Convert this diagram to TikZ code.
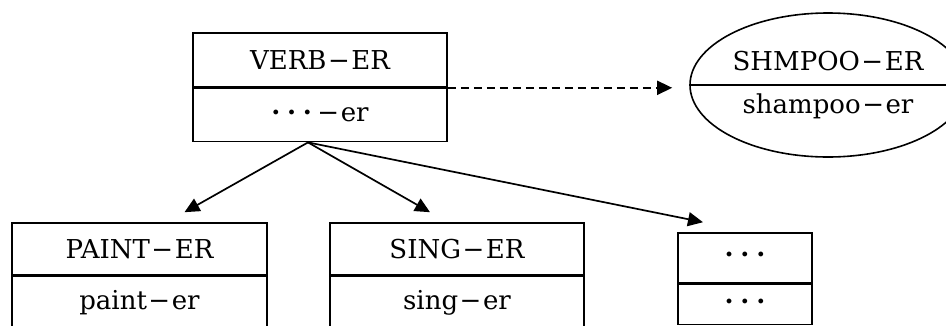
\documentclass[tikz,border=0pt]{standalone}
\usepackage{fontspec}
\setmainfont{DejaVu Serif}
\usetikzlibrary{arrows.meta,shapes.geometric}
% minus sign between word parts
\newcommand{\mn}{\kern0.06em−\kern0.06em}
% row of three heavy dots
\newcommand{\tdots}{{\bfseries ·\kern0.26em·\kern0.26em·}}
\begin{document}
\begin{tikzpicture}[x=1pt,y=-1pt,
  font=\fontsize{26}{30}\selectfont,
  part/.style={draw, line width=1.6pt, inner sep=0pt, minimum width=#1},
  conn/.style={line width=1.7pt, -{Triangle[length=15pt,width=14pt]}},
  dashconn/.style={conn, dash pattern=on 8pt off 5pt}]
\useasboundingbox (0,0) rectangle (946,325);
\clip (0,0) rectangle (946,325);

% general class
\node[part=254pt, minimum height=54pt] (vname) at (320,60) {VERB\mn ER};
\node[part=254pt, minimum height=53pt, anchor=north] (vmem) at (vname.south) {\tdots\kern0.15em\mn er};

% extension class drawn as an ellipse
\node[draw, ellipse, line width=1.6pt, inner sep=0pt,
      minimum width=276pt, minimum height=144pt] (shm) at (828,85) {};
\draw[line width=1.6pt] (shm.west) -- (shm.east);
\node (shmname) at (828,61) {SHMPOO\mn ER};
\node (shmmem) at (828,106) {shampoo\mn er};

% subclasses
\node[part=255pt, minimum height=52pt] (pname) at (139.5,249) {PAINT\mn ER};
\node[part=255pt, minimum height=52pt, anchor=north] (pmem) at (pname.south) {paint\mn er};

\node[part=254pt, minimum height=52pt] (sname) at (457,249) {SING\mn ER};
\node[part=254pt, minimum height=52pt, anchor=north] (smem) at (sname.south) {sing\mn er};

\node[part=134pt, minimum height=50pt] (dname) at (745,258) {\tdots};
\node[part=134pt, minimum height=40pt, anchor=north] (dmem) at (dname.south) {\tdots};

% connectors
\coordinate (fork) at ([xshift=-12pt]vmem.south);
\draw[conn] (fork) -- ([xshift=45pt,yshift=10pt]pname.north);
\draw[conn] (fork) -- ([xshift=-27pt,yshift=10pt]sname.north);
\draw[conn] (fork) -- ([xshift=-42pt,yshift=10pt]dname.north);
\draw[dashconn] (vname.south east) -- ([xshift=-17pt]shm.west |- vname.south east);
\end{tikzpicture}
\end{document}
